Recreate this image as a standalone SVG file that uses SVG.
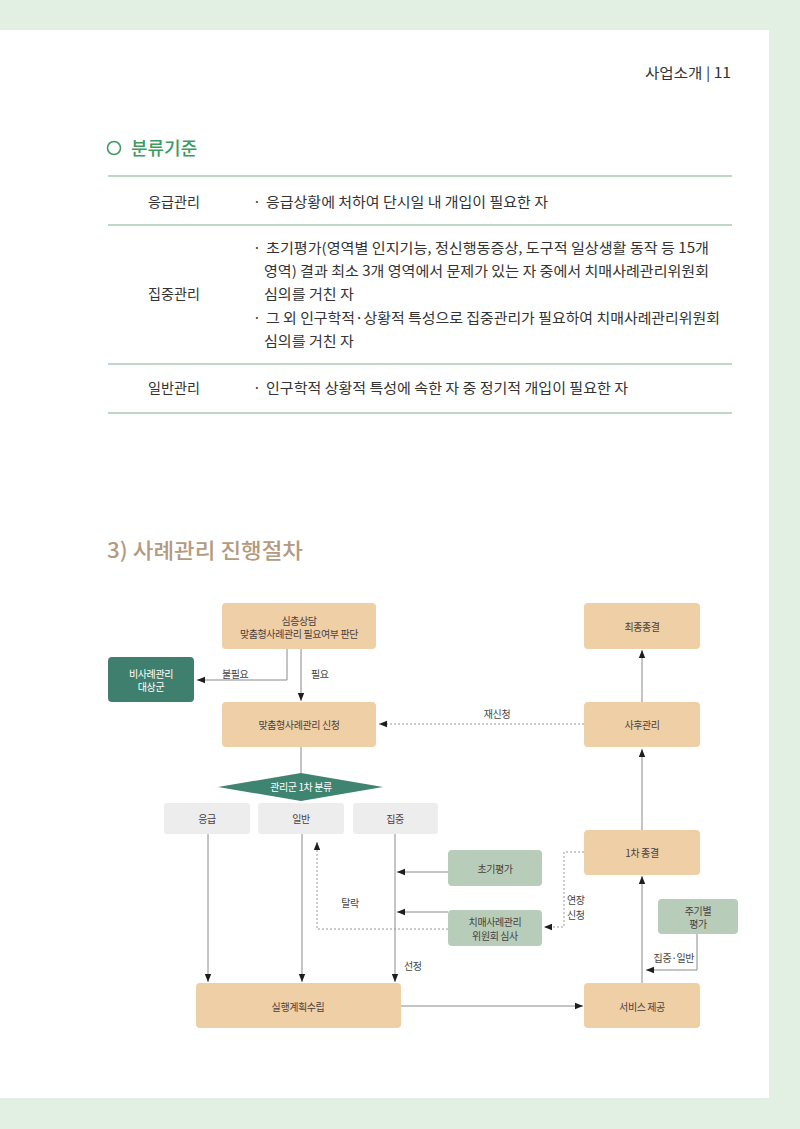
<svg xmlns="http://www.w3.org/2000/svg" width="800" height="1129" viewBox="0 0 800 1129">
<style>
.t{font-family:"Noto Sans CJK KR","Noto Sans",sans-serif;}
.body{font-size:14px;fill:#333;}
.dg{font-size:10px;fill:#4a4040;text-anchor:middle;dominant-baseline:central;letter-spacing:-0.4px;}
.lbl{font-size:10px;fill:#444;dominant-baseline:central;letter-spacing:-0.4px;}
.tan{fill:#efcfa5;}
.gr{fill:#b8cdb9;}
.grey{fill:#ededed;}
.ln{stroke:#8a8a8a;stroke-width:1;fill:none;}
.dt{stroke:#999;stroke-width:1;fill:none;stroke-dasharray:2,2;}
.rule{stroke:#a9cbb2;stroke-width:1.5;}
</style>
<defs>
<marker id="ah" viewBox="0 0 10 10" refX="10" refY="5" markerWidth="8" markerHeight="8" orient="auto" markerUnits="userSpaceOnUse">
<path d="M0,1 L10,5 L0,9 z" fill="#1e1e1e"/>
</marker>
</defs>
<rect x="0" y="0" width="800" height="1129" fill="#e2efe3"/>
<rect x="0" y="30" width="769" height="1068" fill="#ffffff"/>

<g id="header">
<text class="t" x="645" y="78" font-size="14" fill="#333" textLength="86" lengthAdjust="spacingAndGlyphs">사업소개 | 11</text>
</g>

<g id="section1">
<circle cx="114" cy="148" r="6.5" fill="none" stroke="#3f9a62" stroke-width="1.6"/>
<text class="t" x="131" y="155" font-size="18" font-weight="500" fill="#3f9a62">분류기준</text>
<line class="rule" x1="108" y1="176" x2="732" y2="176"/>
<line class="rule" x1="108" y1="225" x2="732" y2="225"/>
<line class="rule" x1="108" y1="364" x2="732" y2="364"/>
<line class="rule" x1="108" y1="413" x2="732" y2="413"/>
<text class="t body" x="148" y="207" textLength="52" lengthAdjust="spacingAndGlyphs">응급관리</text>
<text class="t body" x="253" y="207">·</text>
<text class="t body" x="266" y="207" textLength="282" lengthAdjust="spacingAndGlyphs">응급상황에 처하여 단시일 내 개입이 필요한 자</text>
<text class="t body" x="148" y="299" textLength="52" lengthAdjust="spacingAndGlyphs">집중관리</text>
<text class="t body" x="253" y="253">·</text>
<text class="t body" x="266" y="253" textLength="443" lengthAdjust="spacingAndGlyphs">초기평가(영역별 인지기능, 정신행동증상, 도구적 일상생활 동작 등 15개</text>
<text class="t body" x="264" y="276" textLength="445" lengthAdjust="spacingAndGlyphs">영역) 결과 최소 3개 영역에서 문제가 있는 자 중에서 치매사례관리위원회</text>
<text class="t body" x="264" y="299" textLength="90" lengthAdjust="spacingAndGlyphs">심의를 거친 자</text>
<text class="t body" x="253" y="323">·</text>
<text class="t body" x="266" y="323" textLength="454" lengthAdjust="spacingAndGlyphs">그 외 인구학적·상황적 특성으로 집중관리가 필요하여 치매사례관리위원회</text>
<text class="t body" x="264" y="346" textLength="90" lengthAdjust="spacingAndGlyphs">심의를 거친 자</text>
<text class="t body" x="148" y="393" textLength="52" lengthAdjust="spacingAndGlyphs">일반관리</text>
<text class="t body" x="253" y="393">·</text>
<text class="t body" x="266" y="393" textLength="362" lengthAdjust="spacingAndGlyphs">인구학적 상황적 특성에 속한 자 중 정기적 개입이 필요한 자</text>
</g>

<g id="section2">
<text class="t" x="107" y="558" font-size="21" font-weight="500" fill="#b39a80" textLength="196" lengthAdjust="spacingAndGlyphs">3) 사례관리 진행절차</text>
</g>

<g id="connectors">
<polyline class="ln" points="287,649 287,680 197,680" marker-end="url(#ah)"/>
<line class="ln" x1="301" y1="649" x2="301" y2="701" marker-end="url(#ah)"/>
<line class="dt" x1="584" y1="724" x2="379" y2="724" marker-end="url(#ah)"/>
<line class="ln" x1="642" y1="702" x2="642" y2="650" marker-end="url(#ah)"/>
<line class="ln" x1="642" y1="830" x2="642" y2="749" marker-end="url(#ah)"/>
<line class="ln" x1="642" y1="983" x2="642" y2="876" marker-end="url(#ah)"/>
<polyline class="ln" points="697,934 697,970 646,970" marker-end="url(#ah)"/>
<polyline class="dt" points="584,852 564,852 564,927 544,927" marker-end="url(#ah)"/>
<line class="ln" x1="301" y1="747" x2="301" y2="774"/>
<line class="ln" x1="208" y1="834" x2="208" y2="982" marker-end="url(#ah)"/>
<line class="ln" x1="302" y1="834" x2="302" y2="982" marker-end="url(#ah)"/>
<line class="ln" x1="395" y1="834" x2="395" y2="982" marker-end="url(#ah)"/>
<line class="ln" x1="448" y1="872" x2="397" y2="872" marker-end="url(#ah)"/>
<line class="ln" x1="448" y1="912" x2="397" y2="912" marker-end="url(#ah)"/>
<polyline class="dt" points="448,929 317,929 317,842" marker-end="url(#ah)"/>
<line class="ln" x1="401" y1="1006" x2="583" y2="1006" marker-end="url(#ah)"/>
<text class="t lbl" x="222" y="673">불필요</text>
<text class="t lbl" x="311" y="673">필요</text>
<text class="t lbl" x="497" y="713" text-anchor="middle">재신청</text>
<text class="t lbl" x="350" y="902" text-anchor="middle">탈락</text>
<text class="t lbl" x="404" y="965">선정</text>
<text class="t lbl" x="567" y="899">연장</text>
<text class="t lbl" x="567" y="914">신청</text>
<text class="t lbl" x="694" y="957" text-anchor="end">집중·일반</text>
</g>

<g id="n-simcheung">
<rect class="tan" x="222" y="603" width="154" height="46" rx="4"/>
<text class="t dg" x="299" y="620">심층상담</text>
<text class="t dg" x="299" y="633">맞춤형사례관리 필요여부 판단</text>
</g>
<g id="n-final">
<rect class="tan" x="584" y="603" width="116" height="46" rx="4"/>
<text class="t dg" x="642" y="626">최종종결</text>
</g>
<g id="n-non">
<rect x="108" y="657" width="86" height="45" rx="4" fill="#3f7f6e"/>
<text class="t dg" x="151" y="673" style="fill:#fff">비사례관리</text>
<text class="t dg" x="151" y="686" style="fill:#fff">대상군</text>
</g>
<g id="n-apply">
<rect class="tan" x="222" y="702" width="154" height="45" rx="4"/>
<text class="t dg" x="299" y="724">맞춤형사례관리 신청</text>
</g>
<g id="n-after">
<rect class="tan" x="584" y="702" width="116" height="45" rx="4"/>
<text class="t dg" x="642" y="724">사후관리</text>
</g>
<g id="n-classify">
<polygon points="218,787 301,773 383,787 301,801" fill="#3f8471"/>
<text class="t dg" x="301" y="786" style="fill:#fff">관리군 1차 분류</text>
</g>
<g id="n-emerg">
<rect class="grey" x="164" y="803" width="86" height="31" rx="3"/>
<text class="t dg" x="207" y="818">응급</text>
</g>
<g id="n-general">
<rect class="grey" x="258" y="803" width="86" height="31" rx="3"/>
<text class="t dg" x="301" y="818">일반</text>
</g>
<g id="n-intense">
<rect class="grey" x="353" y="803" width="85" height="31" rx="3"/>
<text class="t dg" x="395" y="818">집중</text>
</g>
<g id="n-initial">
<rect class="gr" x="448" y="850" width="94" height="36" rx="4"/>
<text class="t dg" x="495" y="868">초기평가</text>
</g>
<g id="n-committee">
<rect class="gr" x="448" y="910" width="94" height="36" rx="4"/>
<text class="t dg" x="495" y="921">치매사례관리</text>
<text class="t dg" x="495" y="935">위원회 심사</text>
</g>
<g id="n-first-end">
<rect class="tan" x="584" y="830" width="116" height="45" rx="4"/>
<text class="t dg" x="642" y="852">1차 종결</text>
</g>
<g id="n-periodic">
<rect class="gr" x="658" y="899" width="80" height="35" rx="4"/>
<text class="t dg" x="698" y="910">주기별</text>
<text class="t dg" x="698" y="923">평가</text>
</g>
<g id="n-plan">
<rect class="tan" x="196" y="983" width="205" height="45" rx="4"/>
<text class="t dg" x="298" y="1006">실행계획수립</text>
</g>
<g id="n-service">
<rect class="tan" x="584" y="983" width="116" height="45" rx="4"/>
<text class="t dg" x="642" y="1006">서비스 제공</text>
</g>
</svg>
